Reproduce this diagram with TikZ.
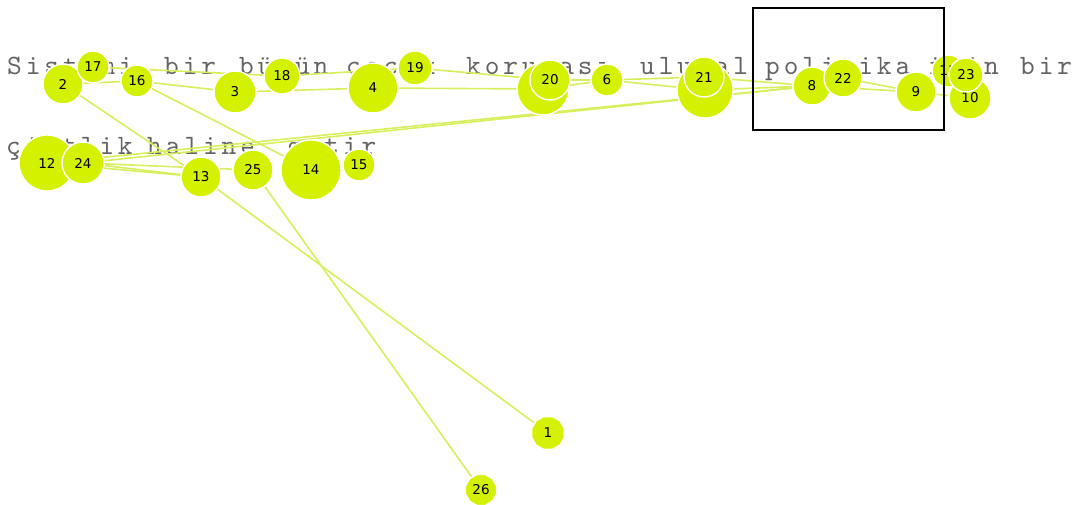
\documentclass[tikz,border=0pt]{standalone}
\usepackage{fontspec}
\usetikzlibrary{shapes.geometric}
\usetikzlibrary{backgrounds}
\newfontfamily\numfont{DejaVu Sans}
\newfontfamily\courfont[Extension=.otf, LetterSpace=14]{lmmono10-regular}
\definecolor{nodelime}{RGB}{212,242,0}
\definecolor{edgelime}{RGB}{216,238,92}
\definecolor{textgray}{RGB}{100,100,100}

\begin{document}
\begin{tikzpicture}[x=1pt, y=-1pt,
  vert/.style={circle, fill=nodelime, draw=white, line width=1.4pt, inner sep=0, font=\numfont\fontsize{13.5}{15}\selectfont},
  leaf/.style={vert, regular polygon, regular polygon sides=12},
  edge/.style={edgelime, line width=1.6pt},
  word/.style={anchor=base west, inner sep=0, text=textgray, font=\courfont\fontsize{28}{32}\selectfont}]
\useasboundingbox (0,0) rectangle (1072,505);
\foreach \n/\x/\y/\d/\t in {2/63/84/40/2, 3/235/92/42/3, 4/373/88/50/4, 5/543/89/52/{}, 6/607/80/32/6, 7/705/90/56/{}, 8/812/86/38/8, 9/916/92/40/9, 10/970/98/42/10, 11/948/71/32/11, 12/47/163/56/12, 13/201/177/40/13, 14/311/170/60/14, 15/359/165/32/15, 16/137/81/32/16, 17/93/67/32/17, 18/282/76/36/18, 19/415/68/34/19, 20/550/80/40/20, 21/704/77/40/21, 22/843/78/38/22, 23/966/75/34/23, 24/83/163/42/24, 25/253/170/40/25} {
 \node[vert, minimum size=\d] (n\n) at (\x,\y) {\t};
}
\node[leaf, minimum size=34] (n1) at (548,433) {1};
\node[leaf, minimum size=32] (n26) at (481,490) {26};
\begin{scope}[on background layer]
\foreach \w/\x [count=\i] in {Sistemi/7, bir/164, bütün/239, çocuk/346, koruması/466, ulusal/640, politika/765, için/928, bir/1020} {
 \node[word] (top\i) at (\x,75) {\w};
}
\foreach \w/\x [count=\i] in {çiftlik/6, haline/147, getir/287} {
 \node[word] (low\i) at (\x,155) {\w};
}
\foreach \a/\b in {13/1, 25/26, 2/13, 16/14, 2/16, 17/18, 16/3, 3/4, 18/19, 4/5, 19/20, 20/6, 5/6, 6/21, 6/7, 12/8, 24/8, 7/8, 21/8, 12/13, 24/13, 24/25, 8/9, 22/9, 9/10} {
 \draw[edge] (n\a) -- (n\b);
}
\end{scope}
\draw[black, line width=1.5pt] (753,8) rectangle (944,130);
\end{tikzpicture}
\end{document}
